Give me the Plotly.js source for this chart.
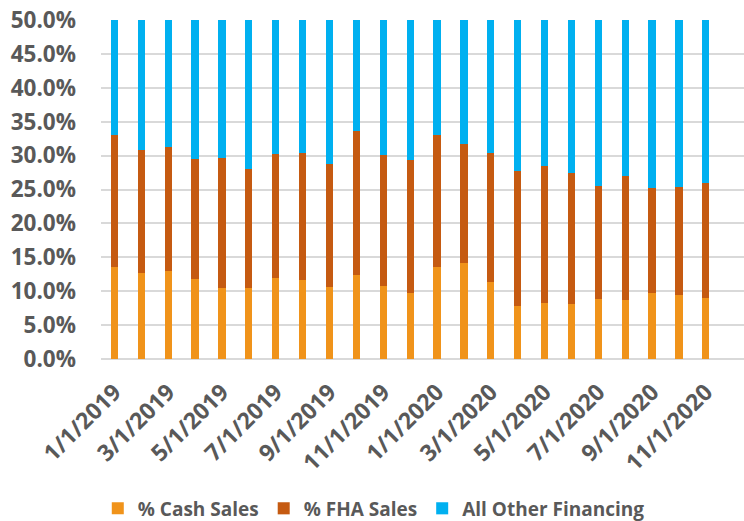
<!DOCTYPE html>
<html>
<head>
<meta charset="utf-8">
<script src="https://cdn.plot.ly/plotly-3.0.1.min.js"></script>
<style>html,body{margin:0;padding:0;background:#fff;}#chart{width:744px;height:521px;}</style>
</head>
<body>
<div id="chart"></div>
<script>
const months = ["1/1/2019","2/1/2019","3/1/2019","4/1/2019","5/1/2019","6/1/2019","7/1/2019","8/1/2019","9/1/2019","10/1/2019","11/1/2019","12/1/2019",
  "1/1/2020","2/1/2020","3/1/2020","4/1/2020","5/1/2020","6/1/2020","7/1/2020","8/1/2020","9/1/2020","10/1/2020","11/1/2020"];
const cashSales = [13.6,12.7,13.0,11.8,10.5,10.5,11.9,11.6,10.6,12.4,10.8,9.7,13.6,14.1,11.4,7.8,8.3,8.1,8.8,8.7,9.7,9.4,9.0];
const fhaSales = [19.4,18.2,18.3,17.7,19.1,17.5,18.4,18.8,18.2,21.2,19.3,19.6,19.4,17.6,19.0,19.9,20.2,19.3,16.7,18.3,15.5,15.9,16.9];
const otherFinancing = [67.0,69.1,68.7,70.5,70.4,72.0,69.7,69.6,71.2,66.4,69.9,70.7,67.0,68.3,69.6,72.3,71.5,72.6,74.5,73.0,74.8,74.7,74.1];

const fontFam = "'Open Sans', 'Liberation Sans', sans-serif";
const gray = "#595959";

const traces = [
  {type:"bar", name:"% Cash Sales", x:months, y:cashSales, marker:{color:"#F0931A"}},
  {type:"bar", name:"% FHA Sales", x:months, y:fhaSales, marker:{color:"#C55A11"}},
  {type:"bar", name:"All Other Financing", x:months, y:otherFinancing, marker:{color:"#00B0F0"}}
];

const layout = {
  width:744, height:521,
  margin:{l:101, r:0, t:20, b:162, autoexpand:false},
  barmode:"stack",
  bargap:0.73,
  paper_bgcolor:"#fff", plot_bgcolor:"#fff",
  font:{family:fontFam, color:gray, size:21, weight:700},
  xaxis:{type:"category", range:[-0.5, 23.42], tick0:0, dtick:2, tickangle:-45,
    showgrid:false, zeroline:false, showline:false, ticks:"", automargin:false,
    ticklabelstandoff:14,
    tickfont:{family:fontFam, size:23, color:gray, weight:700}},
  yaxis:{range:[0,50], dtick:5, tickformat:".1f", ticksuffix:"%", automargin:false,
    showgrid:true, gridcolor:"#D9D9D9", gridwidth:2,
    zeroline:true, zerolinecolor:"#D9D9D9", zerolinewidth:2,
    showline:false, ticks:"", ticklabelstandoff:24,
    tickfont:{family:fontFam, size:22.5, color:gray, weight:700}},
  legend:{orientation:"h", x:-0.005, xanchor:"left", y:-0.441, yanchor:"middle",
    font:{family:fontFam, size:19, color:gray, weight:700}, traceorder:"normal"},
  showlegend:true,
  hovermode:false
};

Plotly.newPlot("chart", traces, layout, {displayModeBar:false, staticPlot:true});
</script>
</body>
</html>
